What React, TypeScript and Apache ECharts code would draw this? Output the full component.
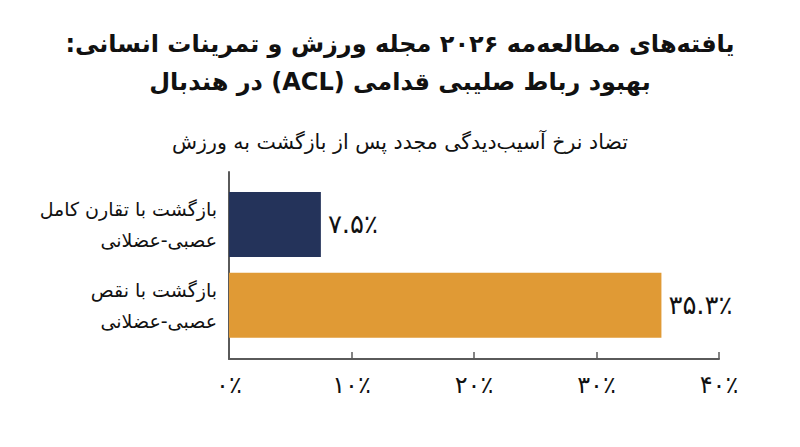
import { useEffect, useRef } from "react";
import * as echarts from "echarts";

// Chart data
const categories = [
  "بازگشت با تقارن کامل\nعصبی-عضلانی",
  "بازگشت با نقص\nعصبی-عضلانی",
];
const reinjuryRates = [7.5, 35.3];
const barColors = ["#24335A", "#E09A35"];
const xTicks = [0, 10, 20, 30, 40];

const titleLines = [
  "یافته‌های مطالعه‌مه ۲۰۲۶ مجله ورزش و تمرینات انسانی:",
  "بهبود رباط صلیبی قدامی (ACL) در هندبال",
];
const subtitle = "تضاد نرخ آسیب‌دیدگی مجدد پس از بازگشت به ورزش";

const FONT = "'DejaVu Sans', sans-serif";

// force right-to-left ordering inside each line
const rtl = (s: string) =>
  s
    .split("\n")
    .map((line) => "\u202B" + line + "\u202C")
    .join("\n");

const faDigits = (s: string) =>
  s.replace(/[0-9]/g, (d) => "۰۱۲۳۴۵۶۷۸۹"[Number(d)]);

export default function App() {
  const chartRef = useRef<HTMLDivElement>(null);

  useEffect(() => {
    if (!chartRef.current) return;
    const chart = echarts.init(chartRef.current, undefined, { renderer: "svg" });

    const gridLeft = 229;
    const gridRight = 81;

    chart.setOption({
      animation: false,
      backgroundColor: "#ffffff",
      title: [
        {
          text: titleLines.map(rtl).join("\n"),
          left: "center",
          top: 20,
          textStyle: {
            fontFamily: FONT,
            fontSize: 24,
            fontWeight: "bold",
            color: "#111111",
            lineHeight: 38,
          },
        },
        {
          text: rtl(subtitle),
          left: "center",
          top: 123,
          textStyle: {
            fontFamily: FONT,
            fontSize: 20.5,
            fontWeight: "normal",
            color: "#111111",
            lineHeight: 28,
          },
        },
      ],
      grid: [
        // frame: axes only
        { left: gridLeft, right: gridRight, top: 172, height: 187 },
        // bars
        { left: gridLeft, right: gridRight, top: 184, height: 161.5 },
      ],
      xAxis: [
        {
          gridIndex: 0,
          type: "value",
          min: xTicks[0],
          max: xTicks[xTicks.length - 1],
          interval: 10,
          axisLine: { show: true, lineStyle: { color: "#5a5a5a", width: 2 } },
          axisTick: {
            show: true,
            inside: true,
            length: 7,
            lineStyle: { color: "#5a5a5a", width: 1.5 },
          },
          splitLine: { show: false },
          axisLabel: {
            fontFamily: FONT,
            fontSize: 24,
            color: "#111111",
            margin: 14,
            formatter: (v: number) => faDigits(String(v)) + "٪",
          },
        },
        {
          gridIndex: 1,
          type: "value",
          min: xTicks[0],
          max: xTicks[xTicks.length - 1],
          show: false,
        },
      ],
      yAxis: [
        {
          gridIndex: 0,
          type: "category",
          inverse: true,
          data: categories,
          axisLine: { show: true, lineStyle: { color: "#5a5a5a", width: 2 } },
          axisTick: { show: false },
          axisLabel: { show: false },
          splitLine: { show: false },
        },
        {
          gridIndex: 1,
          type: "category",
          inverse: true,
          data: categories.map(rtl),
          axisLine: { show: false },
          axisTick: { show: false },
          splitLine: { show: false },
          axisLabel: {
            fontFamily: FONT,
            fontSize: 19,
            lineHeight: 31,
            color: "#111111",
            margin: 12,
            align: "right",
          },
        },
      ],
      series: [
        {
          type: "bar",
          xAxisIndex: 1,
          yAxisIndex: 1,
          barWidth: 65,
          data: reinjuryRates.map((v, i) => ({
            value: v,
            itemStyle: { color: barColors[i] },
          })),
          label: {
            show: true,
            position: "right",
            distance: 7,
            fontFamily: FONT,
            fontSize: 26,
            color: "#111111",
            formatter: (p: { value: number }) =>
              faDigits(p.value.toFixed(1)) + "٪",
          },
        },
      ],
    });

    return () => {
      chart.dispose();
    };
  }, []);

  return (
    <div
      ref={chartRef}
      style={{ position: "fixed", left: 0, top: 0, width: 800, height: 447 }}
    />
  );
}
